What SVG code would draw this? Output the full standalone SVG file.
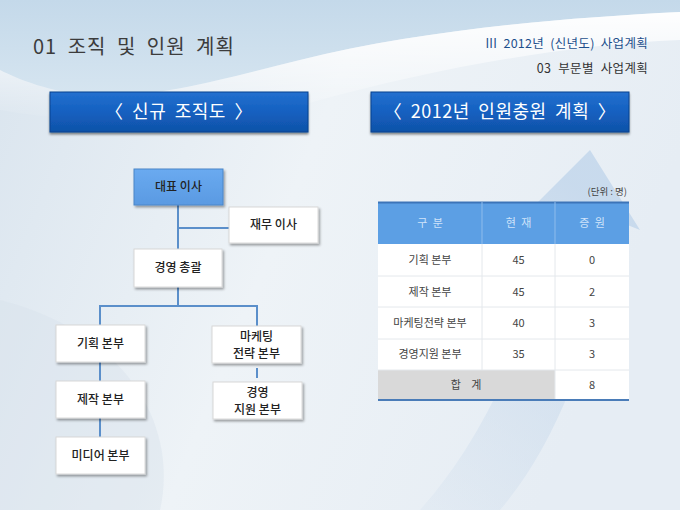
<svg xmlns="http://www.w3.org/2000/svg" width="680" height="510" viewBox="0 0 680 510">
<defs>
<linearGradient id="bg" x1="0" y1="0" x2="1" y2="0.3">
<stop offset="0" stop-color="#d9e4ee"/>
<stop offset="0.5" stop-color="#eef3f7"/>
<stop offset="1" stop-color="#e6edf4"/>
</linearGradient>
<linearGradient id="topw" x1="0" y1="0" x2="0" y2="1">
<stop offset="0" stop-color="#c4d9ea"/>
<stop offset="1" stop-color="#d6e5f0"/>
</linearGradient>
<linearGradient id="swoosh" x1="0" y1="0" x2="0" y2="1">
<stop offset="0" stop-color="#ffffff" stop-opacity="0.95"/>
<stop offset="1" stop-color="#ffffff" stop-opacity="0"/>
</linearGradient>
<linearGradient id="arrowg" x1="0" y1="1" x2="0.5" y2="0">
<stop offset="0" stop-color="#cddcec" stop-opacity="0.2"/>
<stop offset="1" stop-color="#c5d8ec" stop-opacity="0.9"/>
</linearGradient>
<linearGradient id="btn" x1="0" y1="0" x2="0" y2="1">
<stop offset="0" stop-color="#2270cf"/>
<stop offset="0.5" stop-color="#1560c0"/>
<stop offset="1" stop-color="#0f52a8"/>
</linearGradient>
<linearGradient id="ceo" x1="0" y1="0" x2="0" y2="1">
<stop offset="0" stop-color="#6aaaf0"/>
<stop offset="1" stop-color="#5a9ae2"/>
</linearGradient>
<filter id="sh" x="-10%" y="-10%" width="130%" height="140%">
<feDropShadow dx="1.5" dy="2" stdDeviation="1" flood-color="#000" flood-opacity="0.35"/>
</filter>
<filter id="bsh" x="-5%" y="-10%" width="110%" height="140%">
<feDropShadow dx="0" dy="2" stdDeviation="1.2" flood-color="#000" flood-opacity="0.45"/>
</filter>
</defs>
<style>
.ko{font-family:"Noto Sans CJK KR","Noto Sans",sans-serif}
.box{fill:#ffffff;stroke:#d8d8d8;stroke-width:1;filter:url(#sh)}
.bt{font-family:"Noto Sans CJK KR","Noto Sans",sans-serif;font-size:12px;fill:#222;text-anchor:middle;font-weight:500}
.conn{stroke:#5b8fca;stroke-width:2;fill:none}
.btn{fill:url(#btn);stroke:#0b428f;stroke-width:1;filter:url(#bsh)}
.btxt{font-family:"Noto Sans CJK KR","Noto Sans",sans-serif;font-size:18px;fill:#ffffff;text-anchor:middle;letter-spacing:0.5px}
.td{font-family:"Noto Sans CJK KR","Noto Sans",sans-serif;font-size:11px;fill:#444;text-anchor:middle}
.th{font-family:"Noto Sans CJK KR","Noto Sans",sans-serif;font-size:11px;fill:#cfe3fa;text-anchor:middle}
.rl{stroke:#e4e8ec;stroke-width:1}
</style>
<!-- background -->
<rect x="0" y="0" width="680" height="510" fill="url(#bg)"/>
<path d="M0,0 H680 V12 C560,18 420,30 300,60 C220,80 150,100 90,95 C50,92 20,80 0,70 Z" fill="url(#topw)"/>
<path d="M0,70 C20,80 50,92 90,95 C150,100 220,80 300,60 C420,30 560,18 680,12 V40 C560,45 430,70 320,100 C230,125 120,130 0,110 Z" fill="url(#swoosh)"/>
<path d="M420,510 C500,420 540,300 555,205 L530,210 L590,150 L640,230 L610,218 C600,330 560,440 500,510 Z" fill="url(#arrowg)"/>
<path d="M0,300 C120,330 180,420 160,510 H0 Z" fill="#d6e1ea" opacity="0.4"/>
<!-- headings -->
<text class="ko" x="33" y="54" font-size="20" fill="#3c3c3c" letter-spacing="1" word-spacing="5">01 조직 및 인원 계획</text>
<text class="ko" x="648" y="48" font-size="12.5" fill="#1d4f8c" text-anchor="end" letter-spacing="0.3" word-spacing="3">III 2012년 (신년도) 사업계획</text>
<text class="ko" x="648" y="73" font-size="12.5" fill="#333" text-anchor="end" letter-spacing="0.3" word-spacing="4">03 부문별 사업계획</text>
<!-- buttons -->
<g id="btn-org">
<rect class="btn" x="50" y="92" width="258" height="40"/>
<text class="btxt" x="179" y="118" word-spacing="4">〈 신규 조직도 〉</text>
</g>
<g id="btn-plan">
<rect class="btn" x="371" y="92" width="258" height="40"/>
<text class="btxt" x="500" y="118" word-spacing="4">〈 2012년 인원충원 계획 〉</text>
</g>
<!-- connectors -->
<g id="connectors">
<path class="conn" d="M178,205 V249"/>
<path class="conn" d="M178,228 H229"/>
<path class="conn" d="M178,287 V306"/>
<path class="conn" d="M100,306 H257"/>
<path class="conn" d="M100,305 V325"/>
<path class="conn" d="M257,305 V326"/>
<path class="conn" d="M100,362 V381"/>
<path class="conn" d="M100,418 V437"/>
<path class="conn" d="M257,368 V378"/>
</g>
<!-- nodes -->
<g id="n-ceo">
<rect x="134" y="169" width="89" height="36" fill="url(#ceo)" stroke="#4a86c8" stroke-width="1" filter="url(#sh)"/>
<text class="bt" x="178.5" y="191">대표 이사</text>
</g>
<g id="n-cfo">
<rect class="box" x="229" y="207" width="89" height="36"/>
<text class="bt" x="273.5" y="229">재무 이사</text>
</g>
<g id="n-gm">
<rect class="box" x="134" y="249" width="88" height="38"/>
<text class="bt" x="178" y="272">경영 총괄</text>
</g>
<g id="n-plan">
<rect class="box" x="56" y="325" width="89" height="37"/>
<text class="bt" x="100.5" y="348">기획 본부</text>
</g>
<g id="n-mkt">
<rect class="box" x="212" y="326" width="89" height="37"/>
<text class="bt" x="256.5" y="341">마케팅</text>
<text class="bt" x="256.5" y="358">전략 본부</text>
</g>
<g id="n-prod">
<rect class="box" x="56" y="381" width="89" height="37"/>
<text class="bt" x="100.5" y="404">제작 본부</text>
</g>
<g id="n-sup">
<rect class="box" x="213" y="382" width="89" height="37"/>
<text class="bt" x="257.5" y="397">경영</text>
<text class="bt" x="257.5" y="414">지원 본부</text>
</g>
<g id="n-media">
<rect class="box" x="56" y="437" width="89" height="37"/>
<text class="bt" x="100.5" y="460">미디어 본부</text>
</g>
<!-- table -->
<g id="table">
<text class="ko" x="627" y="195" font-size="9.5" fill="#444" text-anchor="end">(단위 : 명)</text>
<rect x="378" y="202" width="251" height="42" fill="#5c9fe4"/>
<line x1="378" y1="202.5" x2="629" y2="202.5" stroke="#3c74b8" stroke-width="2"/>
<rect x="378" y="244" width="251" height="156" fill="#ffffff"/>
<rect x="378" y="370" width="177" height="30" fill="#d9d9d9"/>
<line class="rl" x1="378" y1="276" x2="629" y2="276"/>
<line class="rl" x1="378" y1="307" x2="629" y2="307"/>
<line class="rl" x1="378" y1="339" x2="629" y2="339"/>
<line class="rl" x1="378" y1="370" x2="629" y2="370"/>
<line x1="482" y1="202" x2="482" y2="244" stroke="#8ebcec" stroke-width="1"/>
<line x1="555" y1="202" x2="555" y2="244" stroke="#8ebcec" stroke-width="1"/>
<line class="rl" x1="482" y1="244" x2="482" y2="370"/>
<line class="rl" x1="555" y1="244" x2="555" y2="400"/>
<line x1="378" y1="400" x2="629" y2="400" stroke="#4a7cb8" stroke-width="2"/>
<text class="th" x="430" y="227" word-spacing="3">구 분</text>
<text class="th" x="518.5" y="227" word-spacing="3">현 재</text>
<text class="th" x="592" y="227" word-spacing="3">증 원</text>
<text class="td" x="430" y="264">기획 본부</text>
<text class="td" x="518.5" y="264">45</text>
<text class="td" x="592" y="264">0</text>
<text class="td" x="430" y="296">제작 본부</text>
<text class="td" x="518.5" y="296">45</text>
<text class="td" x="592" y="296">2</text>
<text class="td" x="430" y="327">마케팅전략 본부</text>
<text class="td" x="518.5" y="327">40</text>
<text class="td" x="592" y="327">3</text>
<text class="td" x="430" y="358">경영지원 본부</text>
<text class="td" x="518.5" y="358">35</text>
<text class="td" x="592" y="358">3</text>
<text class="td" x="466" y="389" word-spacing="8">합 계</text>
<text class="td" x="592" y="389">8</text>
</g>
</svg>
